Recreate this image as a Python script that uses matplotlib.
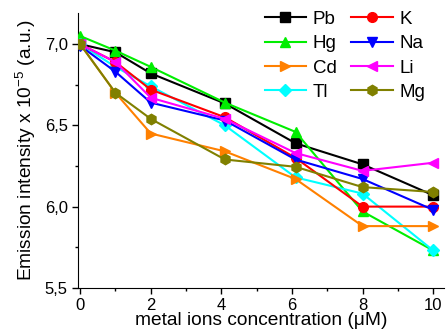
import matplotlib
matplotlib.use('Agg')
import matplotlib.pyplot as plt
from matplotlib.ticker import MultipleLocator, FuncFormatter

plt.rcParams['font.family'] = ['Liberation Sans', 'DejaVu Sans']
plt.rcParams['mathtext.default'] = 'regular'

conc = [0, 1, 2, 4.1, 6.1, 8, 10]

pb = [7.00, 6.95, 6.82, 6.635, 6.39, 6.26, 6.07]
hg = [7.05, 6.96, 6.86, 6.64, 6.46, 5.97, 5.73]
cd = [7.00, 6.70, 6.45, 6.34, 6.17, 5.88, 5.88]
tl = [7.00, 6.86, 6.74, 6.50, 6.18, 6.08, 5.73]
k = [7.00, 6.89, 6.72, 6.55, 6.30, 6.00, 6.00]
na = [6.99, 6.83, 6.64, 6.53, 6.29, 6.17, 5.98]
li = [7.00, 6.89, 6.67, 6.54, 6.33, 6.22, 6.27]
mg = [7.00, 6.70, 6.54, 6.29, 6.245, 6.12, 6.09]

names = ['Pb', 'Hg', 'Cd', 'Tl', 'K', 'Na', 'Li', 'Mg']
series = [pb, hg, cd, tl, k, na, li, mg]
colors = ['black', '#00ee00', '#ff8000', '#00ffff', '#ff0000', '#0000ff', '#ff00ff', '#808000']
markers = ['s', '^', '>', 'D', 'o', 'v', '<', 'h']
msizes = [6.5, 7.5, 7.5, 6, 7, 7.5, 7.5, 7.5]
zords = [2, 3, 5, 4, 6, 7, 8, 9]

fig = plt.figure(figsize=(4.46, 3.32), dpi=100)
ax = fig.add_axes([0.175, 0.133, 0.82, 0.827])

for name, ys, c, m, ms, z in zip(names, series, colors, markers, msizes, zords):
    ax.plot(conc, ys, color=c, marker=m, markersize=ms, linewidth=1.5,
            label=name, zorder=z)

ax.set_xlim(-0.06, 10.3)
ax.set_ylim(5.5, 7.19)
ax.xaxis.set_major_locator(MultipleLocator(2))
ax.xaxis.set_minor_locator(MultipleLocator(1))
ax.yaxis.set_major_locator(MultipleLocator(0.5))
ax.yaxis.set_minor_locator(MultipleLocator(0.25))
ax.yaxis.set_major_formatter(FuncFormatter(lambda v, p: ('%.1f' % v).replace('.', ',')))
ax.tick_params(which='major', direction='out', length=4, width=1, labelsize=12)
ax.tick_params(which='minor', direction='out', length=2.5, width=1)
ax.spines['top'].set_visible(False)
ax.spines['right'].set_visible(False)

ax.set_xlabel('metal ions concentration (\u03bcM)', fontsize=13.8, labelpad=-1)
ax.set_ylabel('Emission intensity x 10$^{-5}$ (a.u.)', fontsize=13.8, labelpad=5)

ax.legend(ncol=2, loc='upper right', bbox_to_anchor=(0.995, 1.07), frameon=False,
          fontsize=13.5, handlelength=2.2, handletextpad=0.35, columnspacing=0.8,
          labelspacing=0.38)

fig.savefig('out.png', dpi=100)
